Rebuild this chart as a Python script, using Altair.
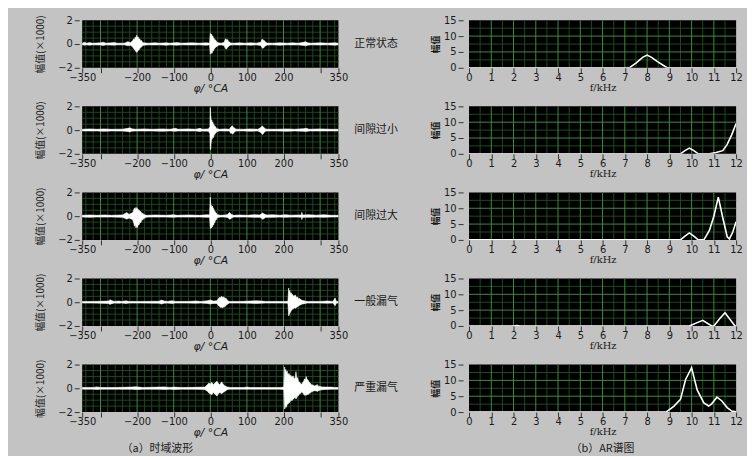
import altair as alt
import pandas as pd

# ---------------- text ----------------
ROW_LABELS = ["正常状态", "间隙过小", "间隙过大", "一般漏气", "严重漏气"]
CAPTION_A = "（a）时域波形"
CAPTION_B = "（b）AR谱图"
TITLE_PHI = "φ/ °CA"
TITLE_F = "f/kHz"
TITLE_AMP = "幅值(×1000)"
TITLE_AR = "幅值"

# ---------------- ticks / grid ----------------
PHI_TICKS = [-350, -300, -200, -100, 0, 100, 200, 300, 350]
AMP_TICKS = [-2, 0, 2]
F_TICKS = list(range(0, 13))
AR_TICKS = [0, 5, 10, 15]
PHI_MAJOR = [-300, -200, -100, 0, 100, 200, 300]
PHI_MINOR = [v for v in range(-340, 341, 20) if v % 100 != 0]
AMP_MAJOR = [0]
AMP_MINOR = [-1.5, -1.0, -0.5, 0.5, 1.0, 1.5]
F_MAJOR = list(range(1, 12))
F_MINOR = [k + 0.5 for k in range(0, 12)]
AR_MAJOR = [5, 10]
AR_MINOR = [2.5, 7.5, 12.5]

# ---------------- time-domain envelopes (angle, +amp, -amp) x1000 ----------------
W1 = [(-350, .07, .07), (-343, .15, .1), (-338, .07, .07), (-330, .12, .1), (-322, .07, .07),
      (-300, .1, .08), (-292, .15, .12), (-285, .07, .07), (-262, .12, .1), (-255, .07, .07),
      (-235, .07, .07), (-225, .2, .15), (-218, .1, .1), (-212, .3, .25), (-209, .45, .4),
      (-207, .35, .45), (-205, .6, .55), (-203, .5, .65), (-201, .75, .7), (-199, .55, .6),
      (-197, .6, .55), (-195, .4, .5), (-193, .45, .4), (-190, .25, .3), (-188, .3, .25),
      (-185, .12, .15), (-182, .1, .1), (-170, .07, .07), (-150, .1, .08), (-140, .07, .07),
      (-120, .1, .1), (-110, .07, .07), (-90, .12, .1), (-80, .07, .07), (-50, .1, .08),
      (-30, .07, .07), (-10, .1, .1), (-2, .07, .07), (0, .9, .85), (1, .7, .8), (2, .85, .75),
      (3, .7, .65), (4, .8, .8), (6, .6, .7), (7, .68, .55), (9, .45, .55), (10, .5, .42),
      (12, .32, .38), (14, .36, .3), (17, .2, .22), (19, .15, .18), (22, .1, .1), (30, .07, .07),
      (38, .15, .15), (41, .4, .35), (43, .45, .42), (45, .3, .4), (47, .38, .3), (50, .22, .2),
      (53, .15, .12), (56, .08, .08), (62, .07, .07), (80, .1, .08), (95, .07, .07),
      (110, .1, .1), (125, .07, .07), (138, .15, .12), (141, .38, .3), (143, .4, .36),
      (146, .3, .32), (148, .28, .22), (151, .15, .15), (156, .08, .08), (170, .07, .07),
      (190, .1, .1), (210, .07, .07), (225, .1, .08), (240, .07, .07), (255, .15, .12),
      (260, .2, .15), (266, .1, .1), (275, .07, .07), (300, .1, .08), (320, .07, .07),
      (340, .1, .1), (350, .07, .07)]

W2 = [(-350, .07, .07), (-330, .1, .08), (-310, .07, .07), (-290, .1, .1), (-270, .07, .07),
      (-240, .08, .08), (-225, .15, .12), (-220, .2, .15), (-215, .12, .1), (-205, .07, .07),
      (-180, .1, .08), (-160, .07, .07), (-130, .1, .1), (-110, .07, .07), (-95, .15, .1),
      (-88, .07, .07), (-60, .1, .08), (-40, .07, .07), (-28, .15, .12), (-22, .07, .07),
      (-5, .1, .1), (-1, .3, .3), (0, 1.9, 1.6), (1, 1.3, 1.65), (2, 1.0, 1.2), (3, .7, .9),
      (4, .85, .8), (5, .6, .75), (7, .7, .55), (8, .5, .65), (10, .48, .45), (12, .3, .38),
      (14, .3, .25), (16, .18, .22), (18, .12, .12), (25, .07, .07), (40, .1, .08),
      (52, .07, .07), (56, .25, .28), (58, .32, .25), (61, .35, .32), (63, .22, .28),
      (66, .18, .15), (70, .08, .08), (90, .07, .07), (110, .1, .1), (130, .07, .07),
      (138, .22, .2), (140, .3, .28), (142, .35, .36), (145, .26, .3), (148, .18, .15),
      (152, .08, .08), (180, .07, .07), (210, .1, .1), (230, .07, .07), (255, .12, .1),
      (262, .15, .12), (270, .07, .07), (300, .1, .08), (330, .07, .07), (350, .07, .07)]

W3 = [(-350, .07, .07), (-330, .1, .1), (-310, .07, .07), (-290, .1, .08), (-270, .07, .07),
      (-240, .1, .1), (-228, .3, .25), (-222, .15, .15), (-212, .3, .3), (-209, .55, .6),
      (-207, .7, .85), (-205, .55, .7), (-203, .75, 1.0), (-201, .6, .8), (-199, .65, .95),
      (-197, .5, .7), (-195, .55, .75), (-192, .38, .5), (-190, .4, .55), (-187, .22, .3),
      (-185, .25, .32), (-181, .14, .18), (-175, .08, .1), (-170, .07, .07), (-150, .1, .08),
      (-120, .07, .07), (-100, .12, .1), (-90, .07, .07), (-60, .1, .08), (-30, .07, .07),
      (-8, .12, .1), (-2, .1, .1), (0, 1.6, 1.0), (1, 1.1, 1.05), (2, .8, .9), (3, .9, 1.0),
      (5, .7, .8), (6, .85, .9), (8, .6, .65), (9, .65, .75), (11, .42, .5), (12, .45, .55),
      (14, .3, .35), (16, .28, .32), (18, .16, .2), (20, .12, .12), (28, .07, .07),
      (40, .1, .08), (48, .15, .12), (51, .28, .22), (53, .3, .26), (56, .2, .22),
      (58, .15, .15), (64, .07, .07), (80, .1, .08), (100, .07, .07), (120, .12, .1),
      (135, .1, .1), (141, .22, .2), (143, .27, .26), (146, .2, .22), (150, .14, .12),
      (155, .1, .1), (170, .12, .1), (190, .08, .08), (205, .12, .1), (220, .08, .08),
      (240, .1, .08), (249, .1, .1), (250, .32, .28), (252, .1, .1), (270, .12, .1),
      (290, .08, .08), (310, .12, .1), (330, .07, .07), (350, .07, .07)]

W4 = [(-350, .07, .07), (-320, .07, .07), (-300, .08, .08), (-278, .1, .1), (-274, .22, .18),
      (-270, .15, .12), (-262, .07, .07), (-250, .1, .08), (-242, .07, .07), (-230, .12, .1),
      (-222, .07, .07), (-190, .07, .07), (-140, .08, .08), (-133, .18, .15), (-126, .1, .08),
      (-118, .07, .07), (-105, .12, .1), (-95, .07, .07), (-60, .07, .07), (-40, .1, .08),
      (-25, .07, .07), (-8, .12, .1), (0, .18, .15), (8, .1, .1), (18, .12, .1), (22, .3, .28),
      (25, .42, .36), (28, .38, .45), (31, .5, .42), (34, .4, .46), (37, .45, .38),
      (40, .32, .36), (43, .34, .28), (47, .15, .15), (52, .07, .07), (80, .07, .07),
      (110, .1, .08), (125, .12, .1), (140, .1, .08), (150, .07, .07), (200, .07, .07),
      (212, .08, .08), (214, 1.2, 1.15), (215, .8, 1.1), (217, 1.0, .9), (219, .7, .85),
      (221, .8, .7), (223, .6, .65), (225, .65, .55), (228, .48, .55), (230, .55, .45),
      (232, .62, .5), (235, .4, .45), (238, .45, .38), (241, .3, .32), (244, .32, .26),
      (248, .2, .2), (252, .15, .15), (256, .12, .12), (265, .07, .07), (300, .07, .07),
      (320, .1, .08), (335, .07, .07), (341, .35, .3), (344, .08, .08), (350, .07, .07)]

W5 = [(-350, .07, .07), (-320, .07, .07), (-310, .12, .1), (-300, .07, .07), (-260, .07, .07),
      (-215, .1, .08), (-205, .13, .1), (-195, .1, .1), (-185, .07, .07), (-140, .1, .08),
      (-125, .12, .1), (-110, .07, .07), (-100, .1, .1), (-80, .07, .07), (-40, .08, .08),
      (-15, .1, .1), (-8, .3, .25), (-4, .45, .4), (0, .35, .45), (4, .5, .55), (8, .3, .35),
      (13, .45, .5), (18, .6, .65), (22, .4, .45), (26, .3, .35), (31, .55, .45), (35, .35, .35),
      (40, .2, .25), (47, .1, .1), (55, .07, .07), (90, .07, .07), (100, .1, .08),
      (110, .07, .07), (190, .07, .07), (201, .1, .1), (203, 1.8, 1.75), (204, 1.4, 1.7),
      (206, 1.6, 1.5), (208, 1.3, 1.6), (210, 1.45, 1.3), (212, 1.15, 1.35), (215, 1.25, 1.2),
      (218, 1.0, 1.15), (220, 1.1, .95), (223, .9, 1.05), (226, 1.05, .9), (229, .8, .85),
      (232, .9, .75), (234, 1.4, .9), (236, .85, .8), (238, .9, .65), (241, .6, .6),
      (244, .5, .45), (247, .38, .42), (250, .35, .3), (253, .5, .4), (255, .6, .5),
      (258, .8, .6), (260, .7, .55), (262, 1.0, .6), (264, .75, .5), (267, .7, .55),
      (270, .5, .42), (273, .45, .4), (276, .3, .32), (280, .28, .25), (285, .2, .2),
      (290, .25, .22), (292, .32, .28), (295, .18, .2), (300, .15, .15), (305, .12, .12),
      (315, .1, .1), (330, .1, .08), (340, .07, .07), (350, .07, .07)]

WAVES = [W1, W2, W3, W4, W5]

# ---------------- AR spectra ----------------
F1 = [0, 7.2, 7.5, 7.8, 8.0, 8.2, 8.5, 8.9, 12]
V1 = [0, 0, 1.5, 3.3, 4.0, 3.3, 1.8, 0, 0]
F2 = [0, 9.5, 9.7, 9.9, 10.1, 10.3, 10.8, 11.1, 11.4, 11.6, 11.8, 12.0]
V2 = [0, 0, 1.0, 1.8, 1.0, 0, 0, 0.4, 1.0, 3.0, 6.0, 9.6]
F3 = [0, 9.5, 9.7, 9.9, 10.1, 10.3, 10.55, 10.8, 11.0, 11.2, 11.4, 11.6, 11.7, 11.85, 12.0]
V3 = [0, 0, 1.2, 2.2, 1.2, 0, 0, 3.0, 7.5, 13.5, 7.0, 1.0, 0.3, 2.5, 5.7]
F4 = [0, 2.0, 2.15, 2.3, 9.9, 10.2, 10.5, 10.9, 11.0, 11.25, 11.5, 11.95, 12]
V4 = [0, 0, 0.15, 0, 0, 0.9, 1.8, 0, 0, 2.2, 4.2, 0, 0]
F5 = [0, 8.85, 9.2, 9.5, 9.73, 10.0, 10.25, 10.55, 10.77, 10.9, 11.14, 11.36, 11.6, 11.8, 12.0]
V5 = [0, 0, 1.8, 4.0, 10.3, 14.0, 7.0, 2.9, 1.9, 2.6, 4.7, 3.5, 1.4, 0.3, 0.1]
SPECTRA = [(F1, V1), (F2, V2), (F3, V3), (F4, V4), (F5, V5)]

# ---------------- style ----------------
WL, WR, H = 259, 270, 48
BG = "#c3c3c3"
MAJ = "#3d8c3d"
MIN = "#1d4a1d"
INK = "#1a1a1a"
LATIN = "DejaVu Sans"
CJK = "Noto Sans CJK SC"

xs_phi = alt.Scale(domain=[-350, 350], nice=False, zero=False)
ys_amp = alt.Scale(domain=[-2, 2], nice=False, zero=False)
xs_f = alt.Scale(domain=[0, 12], nice=False, zero=False)
ys_ar = alt.Scale(domain=[0, 15], nice=False, zero=False)


def grid_layers(xs, ys, xaxis, yaxis, xmaj, xmin, ymaj, ymin):
    out = []
    for vals, col, ch in [(xmin, MIN, "x"), (ymin, MIN, "y"), (xmaj, MAJ, "x"), (ymaj, MAJ, "y")]:
        d = pd.DataFrame({"g": vals})
        if ch == "x":
            enc = dict(x=alt.X("g:Q", scale=xs, axis=xaxis))
        else:
            enc = dict(y=alt.Y("g:Q", scale=ys, axis=yaxis))
        out.append(alt.Chart(d).mark_rule(color=col, strokeWidth=1).encode(**enc))
    return out


def caption_layer(text, xpos):
    return alt.Chart(pd.DataFrame({"t": [text]})).mark_text(
        font=CJK, fontSize=11, color=INK, align="center", baseline="middle"
    ).encode(text="t:N", x=alt.value(xpos), y=alt.value(H + 37))


def time_panel(wave, label, caption=None):
    df = pd.DataFrame(wave, columns=["phi", "hi", "lo"])
    df["neg"] = -df["lo"]
    x_axis = alt.Axis(
        values=PHI_TICKS,
        labelExpr="(datum.value == 300 || datum.value == -300) ? '' : datum.label",
        title=TITLE_PHI, titleFont=LATIN, titleFontStyle="italic", titleFontWeight="normal",
        titleFontSize=11, titlePadding=0, tickSize=5, labelPadding=0,
    )
    y_axis = alt.Axis(
        values=AMP_TICKS, title=TITLE_AMP, titleFont=CJK, titleFontSize=10,
        titleFontWeight="normal", titlePadding=12, offset=3, tickSize=5, labelPadding=2,
    )
    area = alt.Chart(df).mark_area(color="white", stroke="white", strokeWidth=0.6, clip=True).encode(
        x=alt.X("phi:Q", scale=xs_phi, axis=x_axis),
        y=alt.Y("hi:Q", scale=ys_amp, axis=y_axis),
        y2="neg:Q",
    )
    lbl = alt.Chart(pd.DataFrame({"t": [label]})).mark_text(
        font=CJK, fontSize=11, color=INK, align="left", baseline="middle"
    ).encode(text="t:N", x=alt.value(WL + 16), y=alt.value(H / 2))
    layers = grid_layers(xs_phi, ys_amp, x_axis, y_axis,
                         PHI_MAJOR, PHI_MINOR, AMP_MAJOR, AMP_MINOR) + [area, lbl]
    if caption:
        layers.append(caption_layer(caption, 76))
    return alt.layer(*layers).properties(width=WL, height=H)


def ar_panel(f, v, caption=None):
    df = pd.DataFrame({"f": f, "v": v})
    x_axis = alt.Axis(
        values=F_TICKS, title=TITLE_F, titleFont="DejaVu Serif", titleFontWeight="normal",
        titleFontSize=10, titlePadding=0, tickSize=5, labelPadding=0,
    )
    y_axis = alt.Axis(
        values=AR_TICKS, title=TITLE_AR, titleFont=CJK, titleFontSize=9,
        titleFontWeight="bold", titlePadding=3, offset=6, tickSize=5, labelPadding=2,
    )
    line = alt.Chart(df).mark_line(color="white", strokeWidth=1.6, clip=True).encode(
        x=alt.X("f:Q", scale=xs_f, axis=x_axis),
        y=alt.Y("v:Q", scale=ys_ar, axis=y_axis),
    )
    layers = grid_layers(xs_f, ys_ar, x_axis, y_axis,
                         F_MAJOR, F_MINOR, AR_MAJOR, AR_MINOR) + [line]
    if caption:
        layers.append(caption_layer(caption, WR / 2))
    return alt.layer(*layers).properties(width=WR, height=H)


panels = []
for i in range(5):
    last = i == 4
    panels.append(time_panel(WAVES[i], ROW_LABELS[i], CAPTION_A if last else None))
    panels.append(ar_panel(SPECTRA[i][0], SPECTRA[i][1], CAPTION_B if last else None))

chart = alt.concat(
    *panels, columns=2, spacing={"row": 39, "column": 132}, bounds="flush"
).properties(
    background=BG, padding={"left": 28, "top": 4, "right": 4, "bottom": 0}
).configure_view(
    fill="#000000", stroke=None
).configure_axis(
    domain=False, grid=False, labelFont=LATIN, labelFontSize=10, labelColor=INK,
    titleColor=INK, tickColor="#333333", labelFlush=False, labelOverlap=False,
)

chart.save("out.html", embed_options={"renderer": "svg", "actions": False})
